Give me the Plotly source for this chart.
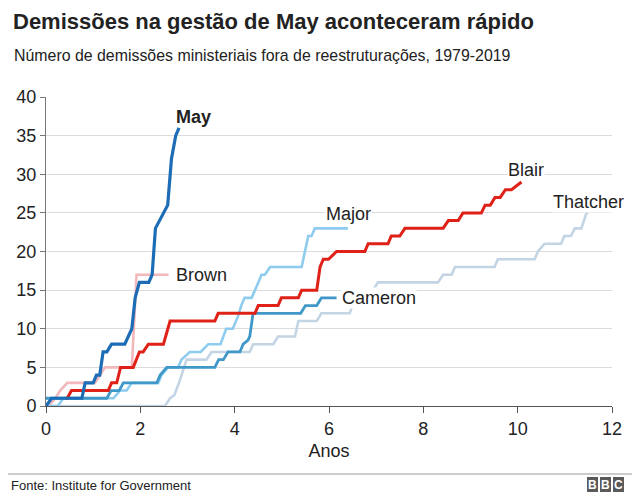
import plotly.graph_objects as go

# ---- data (years in office vs cumulative resignations) ----
thatcher_x = [0, 2.52, 2.63, 2.72, 2.82, 2.98, 3.4, 3.51, 4.32, 4.39, 4.82, 4.92, 5.28, 5.35, 5.74, 5.84, 6.44, 6.6, 6.93, 7.04, 8.31, 8.42, 8.6, 8.67, 9.51, 9.58, 10.36, 10.43, 10.57, 10.92, 10.99, 11.13, 11.21, 11.35, 11.46, 11.5]
thatcher_y = [0, 0, 1, 1.4, 3, 6, 6, 7, 7, 8, 8, 9, 9, 11, 11, 12, 12, 15, 15, 16, 16, 17, 17, 18, 18, 19, 19, 20, 21, 21, 22, 22, 23, 23, 25, 25]

brown_x = [0.05, 0.2, 0.3, 0.45, 1.04, 1.25, 1.82, 1.92, 2.6]
brown_y = [0, 1, 2, 3, 3, 5, 5, 17, 17]

major_x = [0, 0.25, 0.37, 1.43, 1.57, 1.71, 1.82, 2.38, 2.45, 2.59, 2.8, 2.87, 3.05, 3.28, 3.44, 3.7, 3.82, 3.96, 4.07, 4.14, 4.21, 4.36, 4.46, 4.57, 4.64, 4.75, 5.42, 5.56, 5.63, 5.7, 6.4]
major_y = [0, 0, 1, 1, 2, 2, 3, 3, 4, 5, 5, 6, 7, 7, 8, 8, 10, 10, 11.6, 13, 14, 14, 15.4, 17, 17, 18, 18, 22, 22, 23, 23]

cameron_x = [0, 1.29, 1.38, 1.55, 1.64, 2.35, 2.42, 2.56, 3.58, 3.66, 3.76, 3.86, 4.11, 4.18, 4.28, 4.32, 4.39, 5.4, 5.5, 5.74, 5.84, 6.16]
cameron_y = [1, 1, 2, 2, 3, 3, 4, 5, 5, 6, 6, 7, 7, 8, 8.5, 9, 12, 12, 13, 13, 14, 14]

blair_x = [0.42, 0.45, 0.54, 1.32, 1.39, 1.5, 1.58, 1.85, 1.98, 2.06, 2.17, 2.49, 2.63, 3.58, 3.65, 4.43, 4.5, 4.92, 4.99, 5.35, 5.42, 5.74, 5.81, 5.88, 5.99, 6.16, 6.76, 6.83, 7.25, 7.32, 7.5, 7.61, 8.42, 8.53, 8.74, 8.84, 9.23, 9.31, 9.42, 9.52, 9.63, 9.74, 9.87, 10.08]
blair_y = [1, 1, 2, 2, 3, 3, 5, 5, 7, 7, 8, 8, 11, 11, 12, 12, 13, 13, 14, 14, 15, 15, 18, 19, 19, 20, 20, 21, 21, 22, 22, 23, 23, 24, 24, 25, 25, 26, 26, 27, 27, 28, 28, 29]

may_x = [0, 0.12, 0.76, 0.83, 1.0, 1.07, 1.14, 1.21, 1.29, 1.39, 1.67, 1.74, 1.82, 1.89, 1.98, 2.18, 2.25, 2.32, 2.45, 2.58, 2.66, 2.75, 2.82]
may_y = [0, 1, 1, 3, 3, 4, 4, 7, 7, 8, 8, 9, 10, 14, 16, 16, 17, 23, 24.5, 26, 32, 35, 36]

x_ticks = [0, 2, 4, 6, 8, 10, 12]
y_ticks = [0, 5, 10, 15, 20, 25, 30, 35, 40]

labels = ["Thatcher", "Brown", "Major", "Cameron", "Blair", "May"]
label_x = [10.72, 2.73, 5.92, 6.25, 9.77, 2.73]
label_y = [26.4, 17.0, 24.8, 14.0, 30.6, 37.4]

series = [
    ("Thatcher", thatcher_x, thatcher_y, "#c3d5e4", 2.6),
    ("Brown", brown_x, brown_y, "#f3b8bc", 2.6),
    ("Major", major_x, major_y, "#8dccef", 2.6),
    ("Cameron", cameron_x, cameron_y, "#3f98c8", 2.8),
    ("Blair", blair_x, blair_y, "#df2118", 3.0),
    ("May", may_x, may_y, "#1c6db6", 3.2),
]

FONT = "Liberation Sans, Arial, Helvetica, sans-serif"
TXT = "#222222"

fig = go.Figure()
for name, xs, ys, col, w in series:
    fig.add_trace(go.Scatter(x=xs[:len(ys)], y=ys[:len(xs)], mode="lines", name=name,
                             line=dict(color=col, width=w),
                             cliponaxis=False, hoverinfo="skip"))

# page is shown with an 8px body margin, so the figure is drawn 8px in from the corner
OFF = 8
# plot area in screen pixels
L, T, W, H = 46, 97, 566, 309
def px(x):
    return (x - L) / W
def py(y):
    return (T + H - y) / H

anns = []
for t, lx, ly in zip(labels, label_x, label_y):
    anns.append(dict(x=lx, y=ly, xref="x", yref="y", text=("<b>%s</b>" % t) if t == "May" else t,
                     showarrow=False, xanchor="left", yanchor="middle",
                     font=dict(family=FONT, size=18, color=TXT),
                     bgcolor="white" if t in ("Cameron", "Blair", "Thatcher", "Major") else "rgba(0,0,0,0)",
                     borderpad=0))

anns += [
    dict(x=px(11), y=py(21), xref="paper", yref="paper", xanchor="left", yanchor="middle",
         text="<b>Demissões na gestão de May aconteceram rápido</b>", showarrow=False,
         font=dict(family=FONT, size=22, color=TXT)),
    dict(x=px(12), y=py(55), xref="paper", yref="paper", xanchor="left", yanchor="middle",
         text="Número de demissões ministeriais fora de reestruturações, 1979-2019", showarrow=False,
         font=dict(family=FONT, size=15.9, color=TXT)),
    dict(x=px(9), y=py(485), xref="paper", yref="paper", xanchor="left", yanchor="middle",
         text="Fonte: Institute for Government", showarrow=False,
         font=dict(family=FONT, size=13, color=TXT)),
]

shapes = [dict(type="line", xref="paper", yref="paper", x0=px(OFF), x1=px(640), y0=py(474), y1=py(474),
               line=dict(color="#999999", width=1))]
for i, letter in enumerate("BBC"):
    x0 = 587 + i * 13
    shapes.append(dict(type="rect", xref="paper", yref="paper", x0=px(x0), x1=px(x0 + 11),
                       y0=py(492), y1=py(477), fillcolor="#5a5a5a", line=dict(width=0)))
    anns.append(dict(x=px(x0 + 5.5), y=py(484.5), xref="paper", yref="paper", text="<b>%s</b>" % letter,
                     showarrow=False, xanchor="center", yanchor="middle",
                     font=dict(family=FONT, size=12, color="white")))

fig.update_layout(
    width=640, height=498, autosize=False,
    margin=dict(l=L - OFF, r=640 - (L + W - OFF), t=T - OFF, b=498 - (T + H - OFF), autoexpand=False),
    plot_bgcolor="white", paper_bgcolor="white",
    showlegend=False,
    annotations=anns, shapes=shapes,
    font=dict(family=FONT, color=TXT),
    xaxis=dict(range=[0, 12], tickvals=x_ticks, ticktext=[str(v) for v in x_ticks],
               showgrid=False, zeroline=False, showline=True, linecolor="#555555", linewidth=1,
               ticks="outside", ticklen=6, tickcolor="#555555", automargin=False,
               tickfont=dict(family=FONT, size=18, color=TXT),
               title=dict(text="Anos", font=dict(family=FONT, size=18, color=TXT), standoff=6)),
    yaxis=dict(range=[0, 40], tickvals=y_ticks, ticktext=[str(v) for v in y_ticks],
               showgrid=True, gridcolor="#dcdcdc", gridwidth=1, zeroline=False,
               showline=True, linecolor="#777777", linewidth=1, automargin=False,
               ticks="outside", ticklen=5, tickcolor="#777777",
               tickfont=dict(family=FONT, size=18, color=TXT)),
)

fig.write_html("out.html")
